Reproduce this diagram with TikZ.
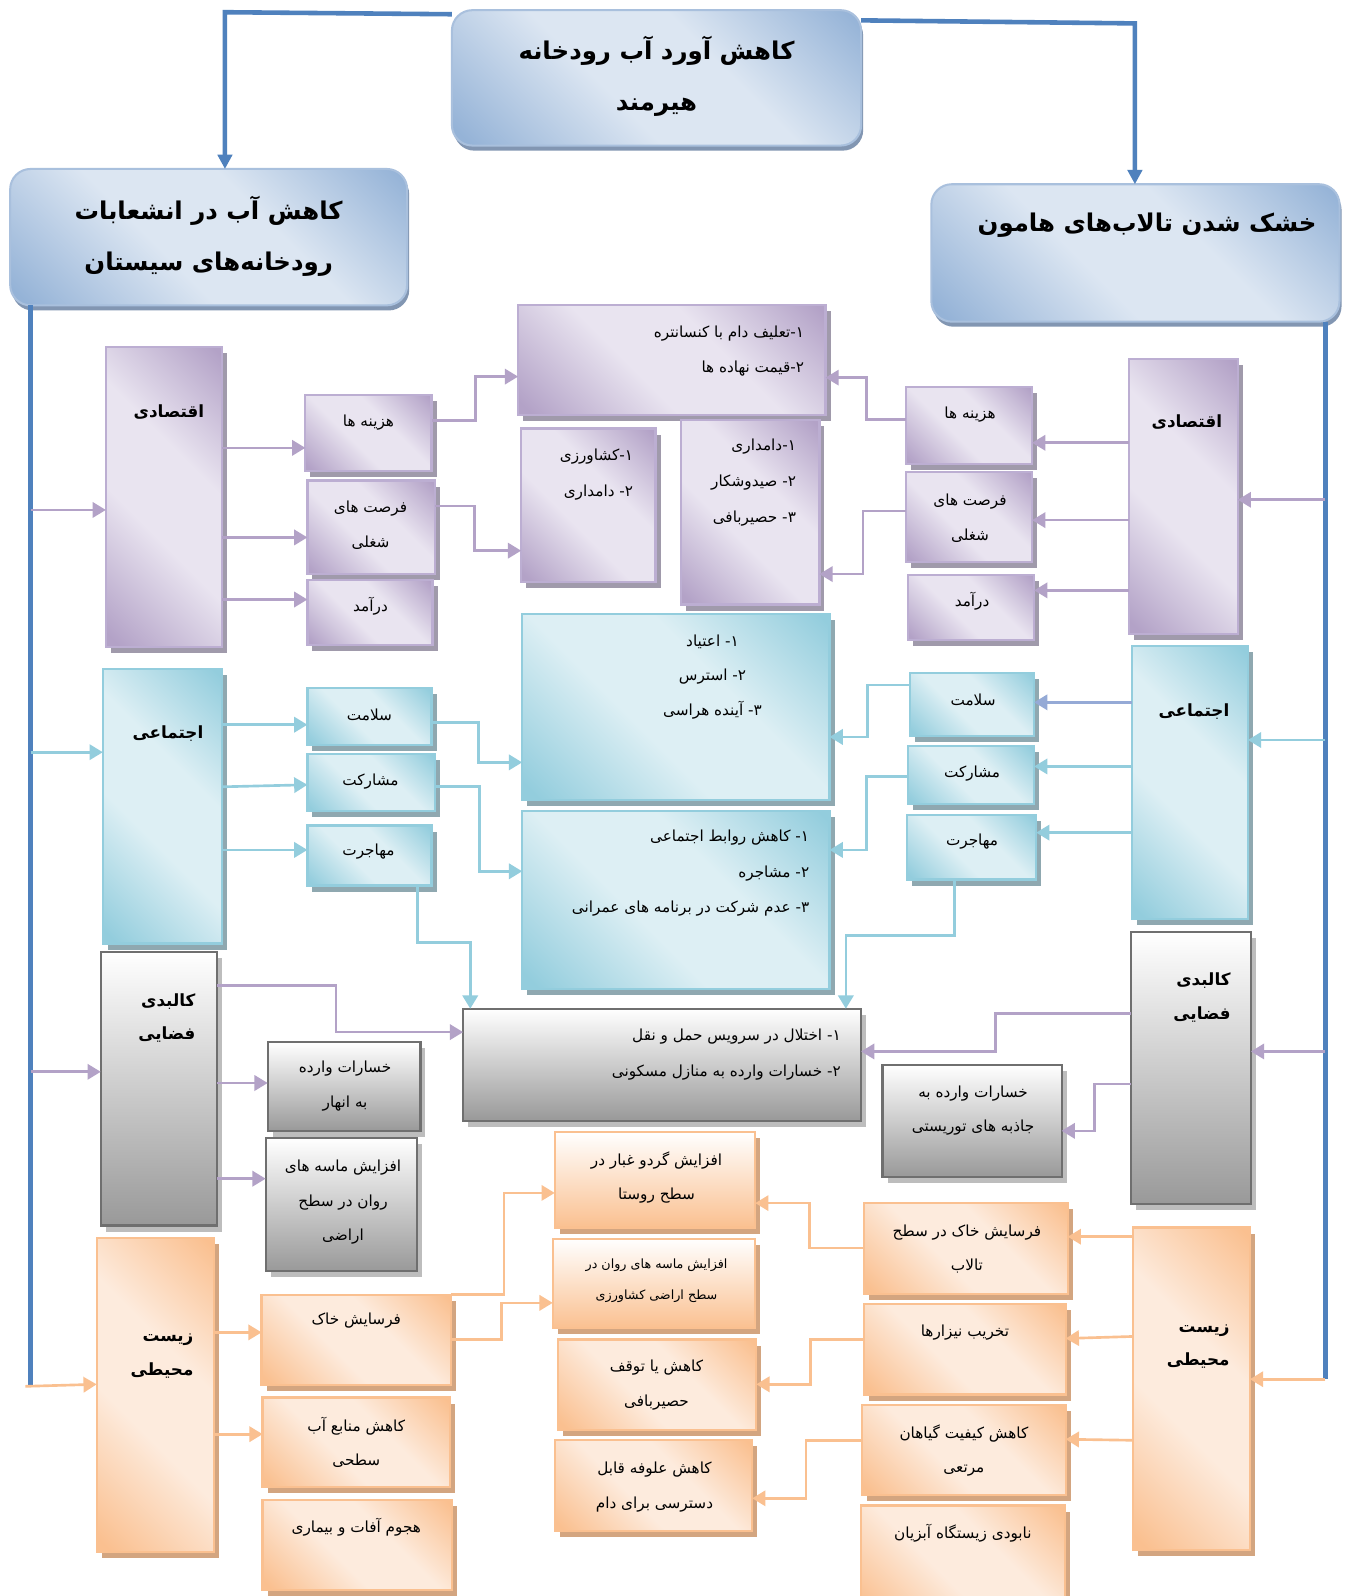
\documentclass[tikz,border=0pt]{standalone}
\usepackage{fontspec}
\usetikzlibrary{arrows.meta,shadows}
\TeXXeTstate=1
\newfontfamily\arabicfont[Script=Arabic]{DejaVu Sans}
\newcommand\fa[1]{\beginR #1\endR}
\definecolor{busblue}{HTML}{4F81BD}
\definecolor{pl}{HTML}{E9E4F0}
\definecolor{pd}{HTML}{B3A2C7}
\definecolor{pbd}{HTML}{BCAED2}
\definecolor{psh}{HTML}{A09AAB}
\definecolor{tl}{HTML}{DDEFF4}
\definecolor{td}{HTML}{93CDDD}
\definecolor{tsh}{HTML}{8FA8B0}
\definecolor{ol}{HTML}{FDEBDD}
\definecolor{od}{HTML}{FAC090}
\definecolor{osh}{HTML}{D3A580}
\definecolor{gbd}{HTML}{6F6F6F}
\definecolor{gsh}{HTML}{BDBDBD}
\definecolor{gd}{HTML}{999999}
\definecolor{bbl}{HTML}{DCE6F2}
\definecolor{bbd}{HTML}{95B3D7}
\definecolor{bbr}{HTML}{A9C0DD}
\definecolor{bsh}{HTML}{8296B2}
\definecolor{tcol}{HTML}{95AAD6}
\pgfdeclarehorizontalshading{pshade}{100bp}{color(0bp)=(pd); color(17bp)=(pd); color(42bp)=(pl); color(60bp)=(pl); color(84bp)=(pd); color(100bp)=(pd)}
\pgfdeclarehorizontalshading{tshade}{100bp}{color(0bp)=(td); color(17bp)=(td); color(42bp)=(tl); color(60bp)=(tl); color(84bp)=(td); color(100bp)=(td)}
\pgfdeclarehorizontalshading{oshade}{100bp}{color(0bp)=(od); color(17bp)=(od); color(42bp)=(ol); color(60bp)=(ol); color(84bp)=(od); color(100bp)=(od)}
\pgfdeclarehorizontalshading{bshade}{100bp}{color(0bp)=(bbd); color(17bp)=(bbd); color(42bp)=(bbl); color(60bp)=(bbl); color(84bp)=(bbd); color(100bp)=(bbd)}
\newcommand\bx[6]{%
  \pgfmathsetmacro\bxW{#5-#3}\pgfmathsetmacro\bxH{#6-#4}%
  \pgfmathsetmacro\bxX{(#3+#5)/2}\pgfmathsetmacro\bxY{(#4+#6)/2}%
  \node[#2, minimum width=\bxW pt, minimum height=\bxH pt] (#1) at (\bxX,\bxY) {};}
\tikzset{
  base/.style={inner sep=0pt, outer sep=0pt},
  pbox/.style={base, drop shadow={fill=psh, opacity=1, shadow xshift=5pt, shadow yshift=-6pt}, draw=pbd, line width=2.2pt, shade, shading=pshade, shading angle=45},
  tbox/.style={base, drop shadow={fill=tsh, opacity=1, shadow xshift=5pt, shadow yshift=-6pt}, draw=td, line width=2.2pt, shade, shading=tshade, shading angle=45},
  obox/.style={base, drop shadow={fill=osh, opacity=1, shadow xshift=5pt, shadow yshift=-6pt}, draw=od, line width=2.2pt, shade, shading=oshade, shading angle=45},
  ovbox/.style={base, drop shadow={fill=osh, opacity=1, shadow xshift=5pt, shadow yshift=-6pt}, draw=od, line width=2.2pt, top color=white, bottom color=od},
  gbox/.style={base, drop shadow={fill=gsh, opacity=1, shadow xshift=5pt, shadow yshift=-6pt}, draw=gbd, line width=2.2pt, top color=white, bottom color=gd},
  bbox/.style={base, rounded corners=20pt, drop shadow={fill=bsh, opacity=1, shadow xshift=2pt, shadow yshift=-5pt}, draw=bbr, line width=2pt, shade, shading=bshade, shading angle=45},
  tip/.style={-{Triangle[length=13pt,width=15pt]}},
  bus/.style={draw=busblue, line width=4.5pt},
  busa/.style={bus, -{Triangle[length=14pt,width=14pt]}},
  pc/.style={draw=pd, line width=2.6pt, tip},
  tc/.style={draw=td, line width=2.6pt, tip},
  tc2/.style={draw=tcol, line width=2.6pt, tip},
  oc/.style={draw=od, line width=2.6pt, tip},
  ttl/.style={base, font=\arabicfont\bfseries\fontsize{24}{50}\selectfont, align=center},
  cat/.style={base, font=\arabicfont\bfseries\fontsize{16.5}{33}\selectfont, align=right},
  sm/.style={base, font=\arabicfont\fontsize{15}{34}\selectfont, align=center},
  smr/.style={base, font=\arabicfont\fontsize{15}{35}\selectfont, align=right, anchor=east},
  xs/.style={base, font=\arabicfont\fontsize{12.5}{30}\selectfont, align=center},
}
\begin{document}
\begin{tikzpicture}[x=1pt,y=-1pt]
\useasboundingbox (0,0) rectangle (1328,1568);
\fill[white] (0,0) rectangle (1328,1568);
% ---------- boxes ----------
\bx{T0}{bbox}{444}{10}{846}{143}
\bx{TL}{bbox}{10}{166}{400}{300}
\bx{TR}{bbox}{915}{181}{1316}{316}
\bx{LE}{pbox}{104}{341}{218}{636}
\bx{LS}{tbox}{101}{657}{218}{927}
\bx{LK}{gbox}{99}{935}{213}{1204}
\bx{LZ}{obox}{95}{1216}{210}{1525}
\bx{LHaz}{pbox}{300}{388}{424}{463}
\bx{LFor}{pbox}{302}{472}{427}{564}
\bx{LDar}{pbox}{302}{570}{425}{634}
\bx{LSal}{tbox}{302}{676}{424}{732}
\bx{LMos}{tbox}{302}{741}{427}{797}
\bx{LMoh}{tbox}{302}{811}{424}{870}
\bx{LKh}{gbox}{263}{1024}{413}{1111}
\bx{LKm}{gbox}{261}{1118}{410}{1249}
\bx{LZf}{obox}{257}{1272}{443}{1361}
\bx{LZk}{obox}{258}{1373}{442}{1461}
\bx{LZh}{obox}{258}{1474}{444}{1562}
\bx{C1}{pbox}{509}{300}{811}{408}
\bx{C2}{pbox}{512}{421}{644}{572}
\bx{C3}{pbox}{669}{413}{805}{594}
\bx{C4}{tbox}{513}{603}{815}{786}
\bx{C5}{tbox}{513}{797}{815}{972}
\bx{C6}{gbox}{455}{991}{846}{1101}
\bx{C7}{ovbox}{545}{1112}{742}{1206}
\bx{C8}{ovbox}{543}{1217}{742}{1305}
\bx{C9}{obox}{548}{1316}{743}{1405}
\bx{C10}{obox}{545}{1415}{739}{1504}
\bx{RHaz}{pbox}{890}{380}{1014}{456}
\bx{RFor}{pbox}{890}{464}{1014}{552}
\bx{RDar}{pbox}{892}{565}{1016}{629}
\bx{RSal}{tbox}{894}{661}{1016}{723}
\bx{RMos}{tbox}{892}{733}{1016}{790}
\bx{RMoh}{tbox}{891}{801}{1018}{864}
\bx{RKt}{gbox}{867}{1046}{1043}{1156}
\bx{RZf}{obox}{849}{1182}{1049}{1271}
\bx{RZt}{obox}{849}{1281}{1047}{1370}
\bx{RZk}{obox}{847}{1380}{1047}{1469}
\bx{RZn}{obox}{846}{1479}{1046}{1585}
\bx{RE}{pbox}{1109}{353}{1216}{623}
\bx{RS}{tbox}{1112}{635}{1226}{903}
\bx{RK}{gbox}{1111}{916}{1229}{1183}
\bx{RZ}{obox}{1113}{1206}{1228}{1523}
% ---------- bus lines ----------
\coordinate (Lbus) at (30,1362);
\coordinate (Rbus) at (1302,1355);
\draw[busa] (T0.west |- 0,14) -- (221,12) -- (TL.north -| 221,0);
\draw[busa] (T0.east |- 0,20) -- (1115,23) -- (TR.north -| 1115,0);
\draw[bus] (TL.south -| 30,0) -- (Lbus);
\draw[bus] (TR.south -| 1302,0) -- (Rbus);
% left bus branches
\draw[pc] (Lbus |- 0,501) -- (LE.west |- 0,501);
\draw[tc] (Lbus |- 0,739) -- (LS.west |- 0,739);
\draw[pc] (Lbus |- 0,1053) -- (LK.west |- 0,1053);
\draw[oc] ([xshift=-5pt]Lbus) -- (LZ.west |- 0,1360);
% right bus branches
\draw[pc] (Rbus |- 0,491) -- (RE.east |- 0,491);
\draw[tc] (Rbus |- 0,727) -- (RS.east |- 0,727);
\draw[pc] (Rbus |- 0,1033) -- (RK.east |- 0,1033);
\draw[oc] (Rbus) -- (RZ.east |- 0,1355);
% left categories to items
\draw[pc] (LE.east |- 0,440) -- (LHaz.west |- 0,440);
\draw[pc] (LE.east |- 0,528) -- (LFor.west |- 0,528);
\draw[pc] (LE.east |- 0,589) -- (LDar.west |- 0,589);
\draw[tc] (LS.east |- 0,712) -- (LSal.west |- 0,712);
\draw[tc] (LS.east |- 0,773) -- (LMos.west |- 0,771);
\draw[tc] (LS.east |- 0,835) -- (LMoh.west |- 0,835);
\draw[pc] (LK.east |- 0,1064) -- (LKh.west |- 0,1064);
\draw[pc] (LK.east |- 0,1158) -- (LKm.west |- 0,1158);
\draw[pc] (LK.east |- 0,968) -| (330,1014) -- (C6.west |- 0,1014);
\draw[oc] (LZ.east |- 0,1309) -- (LZf.west |- 0,1309);
\draw[oc] (LZ.east |- 0,1409) -- (LZk.west |- 0,1409);
% left items to centre
\draw[pc] (LHaz.east |- 0,413) -| (467,370) -- (C1.west |- 0,370);
\draw[pc] (LFor.east |- 0,497) -| (466,541) -- (C2.west |- 0,541);
\draw[tc] (LSal.east |- 0,710) -| (470,749) -- (C4.west |- 0,749);
\draw[tc] (LMos.east |- 0,773) -| (471,856) -- (C5.west |- 0,856);
\draw[tc] (LMoh.south -| 410,0) |- (462,926) -- (C6.north -| 462,0);
\draw[oc] (LZf.north east) -| (495,1172) -- (C7.west |- 0,1172);
\draw[oc] (LZf.east |- 0,1316) -| (493,1280) -- (C8.west |- 0,1280);
% right categories to items
\draw[pc] (RE.west |- 0,435) -- (RHaz.east |- 0,435);
\draw[pc] (RE.west |- 0,511) -- (RFor.east |- 0,511);
\draw[pc] (RE.west |- 0,580) -- (RDar.east |- 0,580);
\draw[tc2] (RS.west |- 0,690) -- (RSal.east |- 0,690);
\draw[tc] (RS.west |- 0,753) -- (RMos.east |- 0,753);
\draw[tc] (RS.west |- 0,818) -- (RMoh.east |- 0,818);
\draw[pc] (RK.west |- 0,996) -| (978,1033) -- (C6.east |- 0,1033);
\draw[pc] (RK.west |- 0,1065) -| (1075,1111) -- (RKt.east |- 0,1111);
\draw[oc] (RZ.west |- 0,1215) -- (RZf.east |- 0,1215);
\draw[oc] (RZ.west |- 0,1313) -- (RZt.east |- 0,1315);
\draw[oc] (RZ.west |- 0,1415) -- (RZk.east |- 0,1414);
% right items to centre
\draw[pc] (RHaz.west |- 0,412) -| (851,371) -- (C1.east |- 0,371);
\draw[pc] (RFor.west |- 0,502) -| (848,564) -- (C3.east |- 0,564);
\draw[tc] (RSal.west |- 0,673) -| (852,724) -- (C4.east |- 0,724);
\draw[tc] (RMos.west |- 0,763) -| (851,835) -- (C5.east |- 0,835);
\draw[tc] (RMoh.south -| 938,0) |- (831,919) -- (C6.north -| 831,0);
\draw[oc] (RZf.west |- 0,1226) -| (795,1182) -- (C7.east |- 0,1182);
\draw[oc] (RZt.west |- 0,1316) -| (796,1360) -- (C9.east |- 0,1360);
\draw[oc] (RZk.west |- 0,1415) -| (792,1472) -- (C10.east |- 0,1472);
% ---------- texts ----------
\node[ttl] (tT0) at (645,75) {\fa{کاهش آورد آب رودخانه}\\\fa{هیرمند}};
\node[ttl] (tTL) at (205,232) {\fa{کاهش آب در انشعابات}\\\fa{رودخانه‌های سیستان}};
\node[ttl] (tTR) at (1127,221) {\fa{خشک شدن تالاب‌های هامون}};
\node[cat] (tLE) at (166,405) {\fa{اقتصادی}};
\node[cat] (tLS) at (165,721) {\fa{اجتماعی}};
\node[cat, anchor=east] (tLK) at (192,1000) {\fa{کالبدی}\\\fa{فضایی}};
\node[cat, anchor=east] (tLZ) at (190,1332) {\fa{زیست}\\\fa{محیطی}};
\node[cat] (tRE) at (1166,415) {\fa{اقتصادی}};
\node[cat] (tRS) at (1173,699) {\fa{اجتماعی}};
\node[cat, anchor=east] (tRK) at (1209,980) {\fa{کالبدی}\\\fa{فضایی}};
\node[cat, anchor=east] (tRZ) at (1208,1323) {\fa{زیست}\\\fa{محیطی}};
\node[sm] (tLHaz) at (362,415) {\fa{هزینه ها}};
\node[sm] (tLFor) at (364,516) {\fa{فرصت های}\\\fa{شغلی}};
\node[sm] (tLDar) at (364,596) {\fa{درآمد}};
\node[sm] (tLSal) at (363,702) {\fa{سلامت}};
\node[sm] (tLMos) at (364,768) {\fa{مشارکت}};
\node[sm] (tLMoh) at (362,837) {\fa{مهاجرت}};
\node[sm] (tLKh) at (339,1067) {\fa{خسارات وارده}\\\fa{به انهار}};
\node[sm] (tLKm) at (337,1181) {\fa{افزایش ماسه های}\\\fa{روان در سطح}\\\fa{اراضی}};
\node[sm] (tLZf) at (350,1297) {\fa{فرسایش خاک}};
\node[sm] (tLZk) at (350,1417) {\fa{کاهش منابع آب}\\\fa{سطحی}};
\node[sm] (tLZh) at (350,1500) {\fa{هجوم آفات و بیماری}};
\node[smr] (tC1) at (790,345) {\fa{۱-تعلیف دام با کنسانتره}\\\fa{۲-قیمت نهاده ها}};
\node[smr] (tC2) at (622,466) {\fa{۱-کشاورزی}\\\fa{۲- دامداری}};
\node[smr] (tC3) at (782,474) {\fa{۱-دامداری}\\\fa{۲- صیدوشکار}\\\fa{۳- حصیربافی}};
\node[sm] (tC4) at (700,665) {\fa{۱- اعتیاد}\\\fa{۲- استرس}\\\fa{۳- آینده هراسی}};
\node[smr] (tC5) at (795,858) {\fa{۱- کاهش روابط اجتماعی}\\\fa{۲- مشاجره}\\\fa{۳- عدم شرکت در برنامه های عمرانی}};
\node[smr] (tC6) at (826,1036) {\fa{۱- اختلال در سرویس حمل و نقل}\\\fa{۲- خسارات وارده به منازل مسکونی}};
\node[sm] (tC7) at (645,1157) {\fa{افزایش گردو غبار در}\\\fa{سطح روستا}};
\node[xs] (tC8) at (645,1258) {\fa{افزایش ماسه های روان در}\\\fa{سطح اراضی کشاورزی}};
\node[sm] (tC9) at (645,1361) {\fa{کاهش یا توقف}\\\fa{حصیربافی}};
\node[sm] (tC10) at (643,1461) {\fa{کاهش علوفه قابل}\\\fa{دسترسی برای دام}};
\node[sm] (tRHaz) at (953,407) {\fa{هزینه ها}};
\node[sm] (tRFor) at (953,509) {\fa{فرصت های}\\\fa{شغلی}};
\node[sm] (tRDar) at (955,591) {\fa{درآمد}};
\node[sm] (tRSal) at (956,688) {\fa{سلامت}};
\node[sm] (tRMos) at (955,760) {\fa{مشارکت}};
\node[sm] (tRMoh) at (955,827) {\fa{مهاجرت}};
\node[sm] (tRKt) at (956,1091) {\fa{خسارات وارده به}\\\fa{جاذبه های توریستی}};
\node[sm] (tRZf) at (950,1227) {\fa{فرسایش خاک در سطح}\\\fa{تالاب}};
\node[sm] (tRZt) at (948,1309) {\fa{تخریب نیزارها}};
\node[sm] (tRZk) at (947,1425) {\fa{کاهش کیفیت گیاهان}\\\fa{مرتعی}};
\node[sm] (tRZn) at (946,1506) {\fa{نابودی زیستگاه آبزیان}};
\end{tikzpicture}
\end{document}
